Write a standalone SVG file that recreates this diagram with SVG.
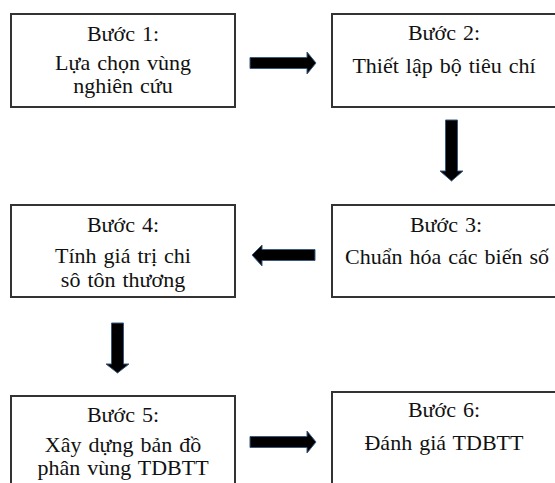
<svg xmlns="http://www.w3.org/2000/svg" width="555" height="483" viewBox="0 0 555 483">
<style>
.box{fill:#fff;stroke:#333;stroke-width:2}
.t{font-family:'Liberation Serif','DejaVu Serif',serif;font-size:22px;word-spacing:1.5px;fill:#111;text-anchor:middle}
.arr{fill:#000;stroke:#3a5a80;stroke-width:1;stroke-linejoin:miter}
</style>
<rect width="555" height="483" fill="#fff"/>
<g id="connectors">
<polygon class="arr" points="250,57.5 307,57.5 307,52 316,63 307,74 307,68.5 250,68.5"/>
<polygon class="arr" points="445.5,120 457.5,120 457.5,171 463,171 451.5,181 440,171 445.5,171"/>
<polygon class="arr" points="315,249.5 262,249.5 262,245 252,255 262,266 262,260.5 315,260.5"/>
<polygon class="arr" points="111.5,323 123.5,323 123.5,364 129,364 117.5,373 106,364 111.5,364"/>
<polygon class="arr" points="250,436.5 307,436.5 307,431 316,442 307,453 307,447.5 250,447.5"/>
</g>
<g id="step1">
<rect class="box" x="11" y="14" width="224" height="93"/>
<text class="t" x="123" y="41">Bước 1:</text>
<text class="t" x="123" y="70">Lựa chọn vùng</text>
<text class="t" x="123" y="93">nghiên cứu</text>
</g>
<g id="step2">
<rect class="box" x="332" y="14" width="230" height="93"/>
<text class="t" x="444" y="40">Bước 2:</text>
<text class="t" x="444" y="73">Thiết lập bộ tiêu chí</text>
</g>
<g id="step3">
<rect class="box" x="332" y="205" width="230" height="92"/>
<text class="t" x="446" y="232">Bước 3:</text>
<text class="t" x="447" y="264">Chuẩn hóa các biến số</text>
</g>
<g id="step4">
<rect class="box" x="11" y="205" width="224" height="92"/>
<text class="t" x="123" y="232">Bước 4:</text>
<text class="t" x="123" y="263">Tính giá trị chi</text>
<text class="t" x="123" y="287">sô tôn thương</text>
</g>
<g id="step5">
<rect class="box" x="11" y="396" width="224" height="100"/>
<text class="t" x="123" y="422">Bước 5:</text>
<text class="t" x="123" y="452">Xây dựng bản đồ</text>
<text class="t" x="123" y="475">phân vùng TDBTT</text>
</g>
<g id="step6">
<rect class="box" x="332" y="392" width="230" height="100"/>
<text class="t" x="444" y="417">Bước 6:</text>
<text class="t" x="444" y="450">Đánh giá TDBTT</text>
</g>
</svg>
